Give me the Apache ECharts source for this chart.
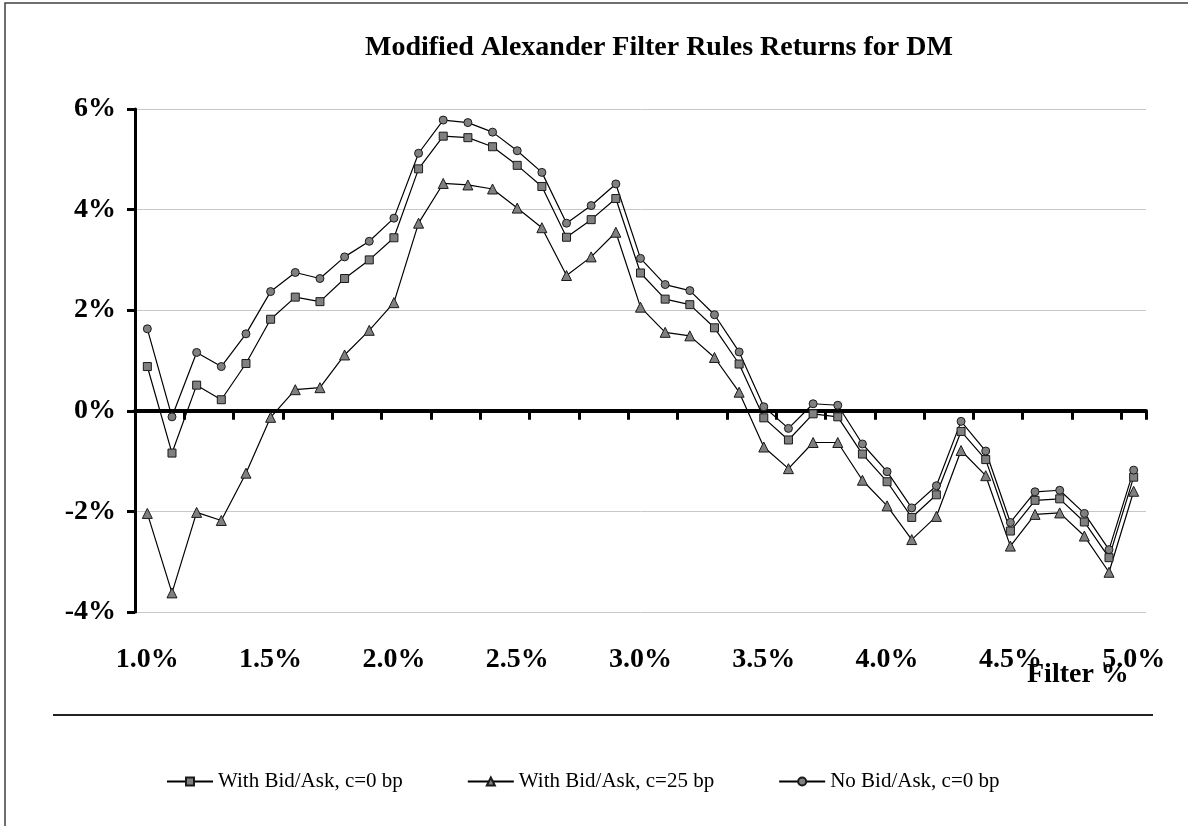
<!DOCTYPE html>
<html>
<head>
<meta charset="utf-8">
<script src="https://cdn.jsdelivr.net/npm/echarts@6/dist/echarts.min.js"></script>
<style>
html,body{margin:0;padding:0;background:#fff;}
#chart{width:1188px;height:826px;}
</style>
</head>
<body>
<div id="chart"></div>
<script>
const categories = ['1.0%','1.1%','1.2%','1.3%','1.4%','1.5%','1.6%','1.7%','1.8%','1.9%',
  '2.0%','2.1%','2.2%','2.3%','2.4%','2.5%','2.6%','2.7%','2.8%','2.9%',
  '3.0%','3.1%','3.2%','3.3%','3.4%','3.5%','3.6%','3.7%','3.8%','3.9%',
  '4.0%','4.1%','4.2%','4.3%','4.4%','4.5%','4.6%','4.7%','4.8%','4.9%','5.0%'];

const withBidAsk0 = [0.88,-0.84,0.51,0.22,0.94,1.82,2.26,2.17,2.63,3.00,
  3.44,4.81,5.46,5.43,5.25,4.88,4.46,3.45,3.80,4.22,
  2.74,2.22,2.11,1.65,0.93,-0.14,-0.58,-0.06,-0.12,-0.86,
  -1.41,-2.12,-1.67,-0.41,-0.97,-2.39,-1.78,-1.75,-2.21,-2.92,-1.32];

const withBidAsk25 = [-2.04,-3.62,-2.02,-2.18,-1.24,-0.13,0.42,0.46,1.11,1.60,
  2.15,3.73,4.52,4.49,4.41,4.03,3.64,2.69,3.06,3.55,
  2.06,1.56,1.49,1.06,0.37,-0.72,-1.15,-0.63,-0.63,-1.38,
  -1.89,-2.56,-2.10,-0.79,-1.29,-2.69,-2.06,-2.03,-2.49,-3.21,-1.60];

const noBidAsk0 = [1.63,-0.12,1.16,0.88,1.53,2.37,2.75,2.63,3.06,3.37,
  3.83,5.12,5.78,5.73,5.54,5.17,4.74,3.73,4.08,4.51,
  3.03,2.51,2.39,1.91,1.17,0.08,-0.35,0.14,0.11,-0.66,
  -1.21,-1.93,-1.49,-0.21,-0.80,-2.22,-1.61,-1.58,-2.04,-2.76,-1.18];

const seriesNames = ['With Bid/Ask, c=0 bp','With Bid/Ask, c=25 bp','No Bid/Ask, c=0 bp'];

const chart = echarts.init(document.getElementById('chart'), null, {renderer:'canvas'});
const serif = '"Liberation Serif","Times New Roman",serif';
const markerStyle = {color:'#808080', borderColor:'#1a1a1a', borderWidth:1};
const lineStyle = {color:'#000', width:1.2};

function mk(name, data, symbol, size){
  return {
    name, type:'line', data, xAxisIndex:0, yAxisIndex:0,
    symbol, symbolSize:size, showAllSymbol:true,
    lineStyle, itemStyle:markerStyle, animation:false
  };
}

chart.setOption({
  animation:false,
  backgroundColor:'#fff',
  title:{
    text:'Modified Alexander Filter Rules Returns for DM',
    left:365, top:34, padding:0,
    textStyle:{fontFamily:serif, fontWeight:'bold', fontSize:28, color:'#000'}
  },
  legend:{
    data:seriesNames,
    left:166, top:771, padding:0,
    itemGap:64, itemWidth:46, itemHeight:10,
    textStyle:{fontFamily:serif, fontSize:21, color:'#000'}
  },
  grid:{left:135, right:42, top:109, bottom:214, containLabel:false},
  xAxis:[{
    type:'category', data:categories, boundaryGap:true, position:'bottom',
    axisLine:{show:true, onZero:true, lineStyle:{color:'#000', width:4}},
    axisTick:{show:true, interval:function(i){return i % 2 === 0;}, length:9, lineStyle:{color:'#000', width:3}},
    axisLabel:{show:false}, splitLine:{show:false}
  },{
    type:'category', data:categories, boundaryGap:true, position:'bottom',
    axisLine:{show:false, onZero:false}, axisTick:{show:false},
    axisLabel:{show:true, interval:4, margin:34,
      fontFamily:serif, fontWeight:'bold', fontSize:28, color:'#000'},
    splitLine:{show:false}
  }],
  yAxis:{
    type:'value', min:-4, max:6, interval:2,
    axisLine:{show:true, onZero:false, lineStyle:{color:'#000', width:3}},
    axisTick:{show:true, length:8, lineStyle:{color:'#000', width:3}},
    axisLabel:{margin:19, formatter:v=>v+'%',
      fontFamily:serif, fontWeight:'bold', fontSize:28, color:'#000'},
    splitLine:{show:true, lineStyle:{color:'#c8c8c8', width:1}}
  },
  graphic:[
    {type:'rect', shape:{x:5, y:3, width:1400, height:1000}, silent:true,
     style:{fill:null, stroke:'#404040', lineWidth:1.5}, z:-1},
    {type:'line', shape:{x1:53, y1:715, x2:1153, y2:715},
     style:{stroke:'#222', lineWidth:2}},
    {type:'text', left:1027, top:661,
     style:{text:'Filter %', font:'bold 28px "Liberation Serif", "Times New Roman", serif', fill:'#000'}}
  ],
  series:[
    mk(seriesNames[0], withBidAsk0, 'rect', 8),
    mk(seriesNames[1], withBidAsk25, 'triangle', 10),
    mk(seriesNames[2], noBidAsk0, 'circle', 8)
  ]
});
</script>
</body>
</html>
